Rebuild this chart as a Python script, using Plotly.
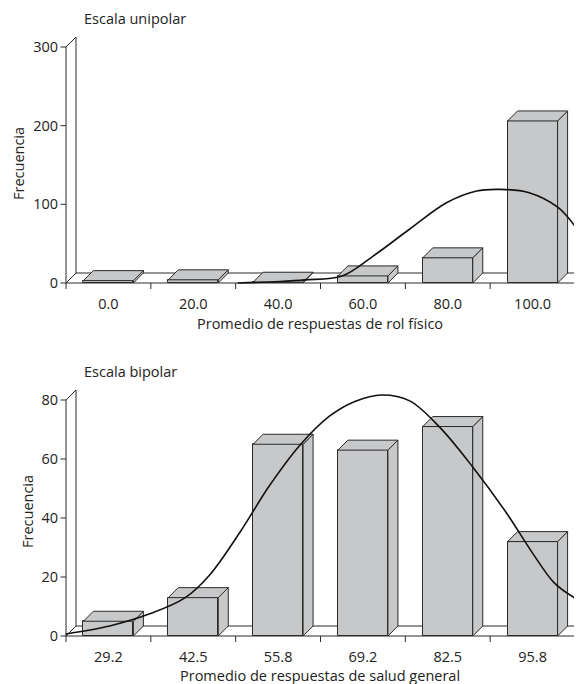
import plotly.graph_objects as go

# ---------------- data ----------------
uni_labels = ["0.0", "20.0", "40.0", "60.0", "80.0", "100.0"]
uni_freq = [3, 4, 1, 9, 32, 206]
uni_first, uni_step = 0.0, 20.0
uni_curve_x = [30.5, 40.4, 46.3, 55.1, 62.1, 70.9, 79.7, 86.8, 92.4, 99.0, 106.0, 110.0]
uni_curve_y = [0, 2, 4, 9, 33, 68, 102, 117, 119, 115, 96, 72]
uni_yticks = [0, 100, 200, 300]

bip_labels = ["29.2", "42.5", "55.8", "69.2", "82.5", "95.8"]
bip_freq = [5, 13, 65, 63, 71, 32]
bip_first, bip_step = 29.2, 13.32
bip_curve_x = [22.5, 29.4, 35.7, 41.2, 45.1, 49.8, 54.5, 59.2, 63.9, 67.9, 72.1, 76.5,
               81.2, 86.4, 91.7, 95.8, 99.2, 102.4]
bip_curve_y = [0.7, 3.4, 7.5, 12.9, 20.7, 35, 51, 64.5, 74.5, 79.5, 81.7, 79.7,
               70.8, 57.3, 41.7, 28.1, 18, 12.9]
bip_yticks = [0, 20, 40, 60, 80]

# ---------------- geometry (page pixels) ----------------
OFF = 8                                     # page body margin
W, H = 582 - OFF, 684 - OFF
PL, PR, PT, PB = 60, 582, 37, 643           # plot area edges (page px)
AX0, AXW = 66, 509                          # x axis origin & length
DEPTH = 10                                  # 3D depth offset
BAR_PX = 50
TICK_PX = 6
NB = 6
ppx = AXW / NB
dx = DEPTH / ppx
bw = BAR_PX / ppx

FONT = "Open Sans"
FS = 14.5
TXT = "#222222"
BAR_FILL = "#c7c8ca"
EDGE = "#2a2a2a"

def xp(px):
    return (px - PL) / (PR - PL)

def yp(py):
    return (PB - py) / (PB - PT)

xrange_ = [-0.5 - (AX0 - PL) / ppx, -0.5 + (PR - AX0) / ppx]

fig = go.Figure()

panels = [
    dict(labels=uni_labels, freq=uni_freq, first=uni_first, step=uni_step,
         cx=uni_curve_x, cy=uni_curve_y, yticks=uni_yticks,
         top=37, origin=283, ymaxpx=47, bot=290, xa="x", ya="y", sfx=""),
    dict(labels=bip_labels, freq=bip_freq, first=bip_first, step=bip_step,
         cx=bip_curve_x, cy=bip_curve_y, yticks=bip_yticks,
         top=390, origin=636, ymaxpx=400, bot=643, xa="x2", ya="y2", sfx="2"),
]

for p in panels:
    ymax = p["yticks"][-1]
    ppv = (p["origin"] - p["ymaxpx"]) / ymax
    dy = DEPTH / ppv
    idx = list(range(len(p["freq"])))

    # frame (behind bars)
    left = -0.5
    right = -0.5 + NB
    path = []
    path.append(f"M{left},0 L{left},{ymax}")
    path.append(f"M{left},{ymax} L{left+dx},{ymax+dy}")
    path.append(f"M{left+dx},{dy} L{left+dx},{ymax+dy}")
    path.append(f"M{left},0 L{left+dx},{dy}")
    path.append(f"M{left+dx},{dy} L{right+dx},{dy}")
    path.append(f"M{right},0 L{right+dx},{dy}")
    path.append(f"M{left},0 L{right},0")
    for b in range(NB + 1):
        path.append(f"M{left+b},0 L{left+b},{-TICK_PX/ppv}")
    for t in p["yticks"]:
        path.append(f"M{left-5.5/ppx},{t} L{left},{t}")
    fig.add_shape(type="path", path=" ".join(path), xref=p["xa"], yref=p["ya"],
                  line=dict(color=EDGE, width=1), layer="below")

    # front faces
    fig.add_trace(go.Bar(x=idx, y=p["freq"], width=bw, marker=dict(color=BAR_FILL,
                         line=dict(color=EDGE, width=1)), xaxis=p["xa"], yaxis=p["ya"],
                         showlegend=False, hoverinfo="skip"))

    # top & side faces
    sx, sy, tx, ty = [], [], [], []
    for i, v in zip(idx, p["freq"]):
        x0, x1 = i - bw / 2, i + bw / 2
        sx += [x1, x1 + dx, x1 + dx, x1, x1, None]
        sy += [0, dy, v + dy, v, 0, None]
        tx += [x0, x1, x1 + dx, x0 + dx, x0, None]
        ty += [v, v, v + dy, v + dy, v, None]
    for fx, fy in ((sx, sy), (tx, ty)):
        fig.add_trace(go.Scatter(x=fx, y=fy, mode="lines", fill="toself",
                                 fillcolor=BAR_FILL, line=dict(color=EDGE, width=1),
                                 xaxis=p["xa"], yaxis=p["ya"], showlegend=False,
                                 hoverinfo="skip"))

    # normal curve
    cxi = [(c - p["first"]) / p["step"] for c in p["cx"]]
    fig.add_trace(go.Scatter(x=cxi, y=p["cy"], mode="lines",
                             line=dict(color="#111111", width=1.6, shape="spline",
                                       smoothing=1.0),
                             xaxis=p["xa"], yaxis=p["ya"], showlegend=False,
                             hoverinfo="skip"))

    yr = [-(p["bot"] - p["origin"]) / ppv, (p["origin"] - p["top"]) / ppv]
    dom = [yp(p["bot"]), yp(p["top"])]
    fig.update_layout(**{
        "xaxis" + p["sfx"]: dict(range=xrange_, domain=[0, 1], anchor=p["ya"],
                                 tickvals=idx, ticktext=p["labels"], ticks="",
                                 ticklabelstandoff=3,
                                 showgrid=False, zeroline=False, showline=False,
                                 tickfont=dict(family=FONT, size=FS, color=TXT)),
        "yaxis" + p["sfx"]: dict(range=yr, domain=dom, anchor=p["xa"],
                                 tickvals=p["yticks"], ticks="", showgrid=False,
                                 ticklabelstandoff=1,
                                 zeroline=False, showline=False,
                                 tickfont=dict(family=FONT, size=FS, color=TXT)),
    })

ann = [
    dict(text="Escala unipolar", x=xp(82), y=yp(19), xanchor="left", yanchor="middle"),
    dict(text="Escala bipolar", x=xp(82), y=yp(371), xanchor="left", yanchor="middle"),
    dict(text="Frecuencia", x=xp(18), y=yp(164), xanchor="center", yanchor="middle", textangle=-90),
    dict(text="Frecuencia", x=xp(27), y=yp(512), xanchor="center", yanchor="middle", textangle=-90),
    dict(text="Promedio de respuestas de rol físico", x=xp(320), y=yp(323),
         xanchor="center", yanchor="middle"),
    dict(text="Promedio de respuestas de salud general", x=xp(320), y=yp(675),
         xanchor="center", yanchor="middle"),
]
for a in ann:
    a.update(xref="paper", yref="paper", showarrow=False,
             font=dict(family=FONT, size=FS, color=TXT))

fig.update_layout(width=W, height=H,
                  margin=dict(l=PL - OFF, r=582 - PR, t=PT - OFF, b=684 - PB, pad=0),
                  paper_bgcolor="white", plot_bgcolor="white", bargap=0,
                  annotations=ann, showlegend=False)

fig.write_html("out.html")
